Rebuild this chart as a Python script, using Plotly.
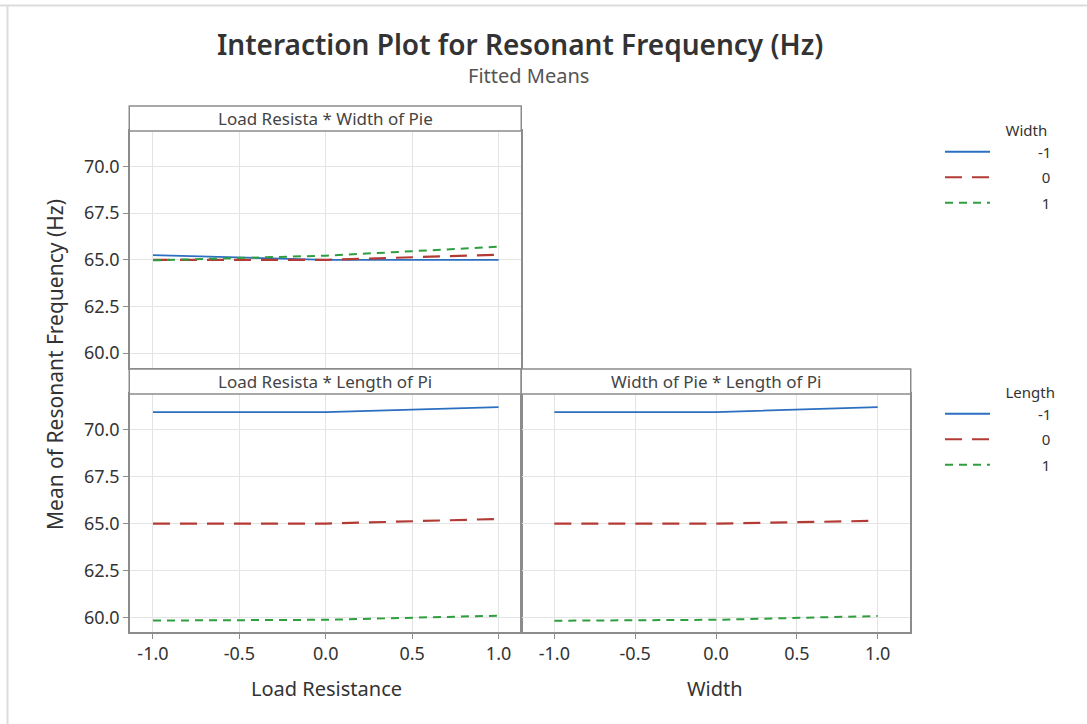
import plotly.graph_objects as go

# ---------------- data ----------------
levels = [-1, 0, 1]

# Panel 1: Load Resistance (x) * Width of Pie (lines)
lr_width_m1 = [65.25, 65.00, 65.00]
lr_width_0 = [65.00, 65.00, 65.27]
lr_width_p1 = [64.97, 65.22, 65.70]

# Panel 2: Load Resistance (x) * Length of Pi (lines)
lr_length_m1 = [70.93, 70.94, 71.20]
lr_length_0 = [65.00, 65.00, 65.25]
lr_length_p1 = [59.84, 59.88, 60.10]

# Panel 3: Width (x) * Length of Pi (lines)
w_length_m1 = [70.93, 70.94, 71.20]
w_length_0 = [65.00, 65.00, 65.15]
w_length_p1 = [59.83, 59.88, 60.08]

line_names = ["-1", "0", "1"]
x_tickvals = [-1.0, -0.5, 0.0, 0.5, 1.0]
x_ticktext = ["-1.0", "-0.5", "0.0", "0.5", "1.0"]
y_tickvals = [60.0, 62.5, 65.0, 67.5, 70.0]
y_ticktext = ["60.0", "62.5", "65.0", "67.5", "70.0"]

# ---------------- style ----------------
W, H = 1087, 724
FONT = "Noto Sans, Open Sans, sans-serif"
colors = ["#2b6fc0", "#b33a35", "#2e9e3e"]
dashes = ["solid", "17px,10px", "8px,6px"]
widths = [1.8, 2.2, 2.0]
frame_col = "#8c8c8c"
grid_col = "#e4e4e4"
text_col = "#333333"
NB = "\u00a0"
pads = [11, 12, 12]


def px_x(p):
    return p / W


def px_y(p):
    return 1 - p / H


fig = go.Figure()

panels = [
    ("x", "y", [lr_width_m1, lr_width_0, lr_width_p1], "legend", True),
    ("x2", "y2", [lr_length_m1, lr_length_0, lr_length_p1], "legend2", True),
    ("x3", "y3", [w_length_m1, w_length_0, w_length_p1], "legend2", False),
]
for xa, ya, series, leg, show in panels:
    for i, vals in enumerate(series):
        fig.add_trace(go.Scatter(
            x=levels, y=vals, mode="lines", name=NB * pads[i] + line_names[i],
            xaxis=xa, yaxis=ya, legend=leg, showlegend=show,
            legendgroup=f"{leg}_{i}",
            line=dict(color=colors[i], dash=dashes[i], width=widths[i]),
            hoverinfo="x+y",
        ))

xd_left = [px_x(130), px_x(520.5)]
xd_right = [px_x(522), px_x(910)]
yd_top = [px_y(367.5), px_y(131)]
yd_bot = [px_y(632), px_y(394)]
yrange = [59.23, 71.9]

common_ax = dict(
    showgrid=True, gridcolor=grid_col, gridwidth=1,
    showline=True, linecolor=frame_col, linewidth=1.5, mirror=True,
    zeroline=False, ticklen=5, tickcolor=frame_col,
    tickfont=dict(family=FONT, size=18, color=text_col),
)

fig.update_layout(
    width=W, height=H,
    margin=dict(l=0, r=0, t=0, b=0),
    paper_bgcolor="white", plot_bgcolor="white",
    xaxis=dict(domain=xd_left, anchor="y", range=[-1.133, 1.127],
               tickvals=x_tickvals, ticktext=x_ticktext, showticklabels=False,
               ticks="", **common_ax),
    yaxis=dict(domain=yd_top, anchor="x", range=yrange, ticks="outside",
               tickvals=y_tickvals, ticktext=y_ticktext, **common_ax),
    xaxis2=dict(domain=xd_left, anchor="y2", range=[-1.133, 1.127], ticks="outside",
                tickvals=x_tickvals, ticktext=x_ticktext, **common_ax),
    yaxis2=dict(domain=yd_bot, anchor="x2", range=yrange, ticks="outside",
                tickvals=y_tickvals, ticktext=y_ticktext, **common_ax),
    xaxis3=dict(domain=xd_right, anchor="y3", range=[-1.2, 1.2], ticks="outside",
                tickvals=x_tickvals, ticktext=x_ticktext, **common_ax),
    yaxis3=dict(domain=yd_bot, anchor="x3", range=yrange,
                tickvals=y_tickvals, ticktext=y_ticktext, showticklabels=False,
                ticks="", **common_ax),
    legend=dict(
        x=px_x(940), y=px_y(116), xanchor="left", yanchor="top",
        title=dict(text="Width" + NB * 2, side="top right",
                   font=dict(family=FONT, size=15, color=text_col)),
        font=dict(family=FONT, size=15, color=text_col),
        itemwidth=45, tracegroupgap=3, bgcolor="rgba(0,0,0,0)",
    ),
    legend2=dict(
        x=px_x(940), y=px_y(378), xanchor="left", yanchor="top",
        title=dict(text="Length", side="top right",
                   font=dict(family=FONT, size=15, color=text_col)),
        font=dict(family=FONT, size=15, color=text_col),
        itemwidth=45, tracegroupgap=3, bgcolor="rgba(0,0,0,0)",
    ),
)

# strip header boxes
strips = [
    (xd_left, [px_y(131), px_y(106)], "Load Resista * Width of Pie"),
    (xd_left, [px_y(394), px_y(369)], "Load Resista * Length of Pi"),
    (xd_right, [px_y(394), px_y(369)], "Width of Pie * Length of Pi"),
]
for xd, yd, label in strips:
    fig.add_shape(type="rect", xref="paper", yref="paper",
                  x0=xd[0] - 0.75 / W, x1=xd[1] + 0.75 / W, y0=yd[0], y1=yd[1],
                  line=dict(color=frame_col, width=1.5), fillcolor="white", layer="above")
    fig.add_annotation(text=label, xref="paper", yref="paper",
                       x=(xd[0] + xd[1]) / 2, y=(yd[0] + yd[1]) / 2,
                       xanchor="center", yanchor="middle", showarrow=False,
                       font=dict(family=FONT, size=17, color="#444444"))

# window border (light grey)
fig.add_shape(type="line", xref="paper", yref="paper",
              x0=0, x1=1, y0=px_y(5.5), y1=px_y(5.5),
              line=dict(color="#dcdcdc", width=2), layer="above")
fig.add_shape(type="line", xref="paper", yref="paper",
              x0=px_x(7.5), x1=px_x(7.5), y0=0, y1=px_y(5.5),
              line=dict(color="#dcdcdc", width=2), layer="above")

# titles
fig.add_annotation(text="Interaction Plot for Resonant Frequency (Hz)",
                   xref="paper", yref="paper", x=px_x(520), y=px_y(44),
                   xanchor="center", yanchor="middle", showarrow=False,
                   font=dict(family=FONT, size=28, color="#333333", weight=600))
fig.add_annotation(text="Fitted Means", xref="paper", yref="paper",
                   x=px_x(528), y=px_y(76), xanchor="center", yanchor="middle",
                   showarrow=False, font=dict(family=FONT, size=20, color="#555555"))
fig.add_annotation(text="Mean of Resonant Frequency (Hz)", xref="paper", yref="paper",
                   x=px_x(55), y=px_y(365), xanchor="center", yanchor="middle",
                   textangle=-90, showarrow=False,
                   font=dict(family=FONT, size=21, color=text_col))
fig.add_annotation(text="Load Resistance", xref="paper", yref="paper",
                   x=px_x(326), y=px_y(688), xanchor="center", yanchor="middle",
                   showarrow=False, font=dict(family=FONT, size=20, color=text_col))
fig.add_annotation(text="Width", xref="paper", yref="paper",
                   x=px_x(715), y=px_y(688), xanchor="center", yanchor="middle",
                   showarrow=False, font=dict(family=FONT, size=20, color=text_col))

fig.write_html("out.html", config={"displayModeBar": False},
               post_script="document.body.style.margin='0px';")
